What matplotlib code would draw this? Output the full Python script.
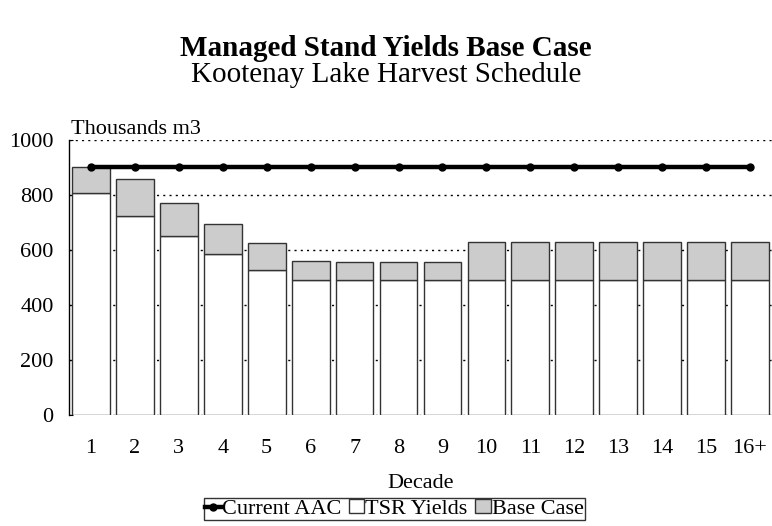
import matplotlib.pyplot as plt
import numpy as np

decades = ["1", "2", "3", "4", "5", "6", "7", "8", "9", "10", "11", "12", "13", "14", "15", "16+"]
tsr_yields = [806, 725, 651, 587, 527, 491, 491, 491, 491, 491, 491, 491, 491, 491, 491, 491]
base_case_extra = [97, 132, 121, 108, 97, 70, 67, 67, 67, 139, 139, 139, 139, 139, 139, 139]
current_aac = [900] * 16

plt.rcParams['font.family'] = ['Liberation Serif', 'DejaVu Serif']

fig = plt.figure(figsize=(7.72, 5.26), dpi=100)
ax = fig.add_axes([0.0894, 0.211, 0.9106, 0.523])

x = np.arange(1, len(decades) + 1)

# dotted gridlines behind the bars
ax.set_axisbelow(True)
ax.yaxis.grid(True, color='black', linestyle=(0, (1.5, 3)), linewidth=1.0)

tsr = ax.bar(x, tsr_yields, width=0.86, color='white', edgecolor='#333333', linewidth=1.0)
base = ax.bar(x, base_case_extra, bottom=tsr_yields, width=0.86, color='#cccccc',
              edgecolor='#333333', linewidth=1.0)
aac, = ax.plot(x, current_aac, color='black', linewidth=3.2, marker='o', markersize=5)

ax.set_xlim(0.5, 16.5)
ax.set_ylim(0, 1000)
ax.set_yticks([0, 200, 400, 600, 800, 1000])
ax.set_xticks(x)
ax.set_xticklabels(decades)
ax.tick_params(axis='x', labelsize=16, length=0, pad=17)
ax.tick_params(axis='y', labelsize=16, direction='in', length=3, pad=11)

for side in ['top', 'right', 'bottom']:
    ax.spines[side].set_visible(False)
ax.spines['left'].set_linewidth(1.0)

ax.set_xlabel('Decade', fontsize=16, labelpad=12)
ax.text(0.003, 1.003, 'Thousands m3', transform=ax.transAxes, fontsize=16, ha='left', va='bottom')

fig.text(0.5, 0.908, 'Managed Stand Yields Base Case', fontsize=21, fontweight='bold',
         ha='center', va='center')
fig.text(0.5, 0.858, 'Kootenay Lake Harvest Schedule', fontsize=21, ha='center', va='center')

leg = fig.legend([aac, tsr, base], ['Current AAC', 'TSR Yields', 'Base Case'], loc='center',
                 bbox_to_anchor=(0.511, 0.032), ncol=3, fontsize=16, frameon=True,
                 fancybox=False, edgecolor='black', handlelength=0.7, handleheight=0.55,
                 handletextpad=0.05, columnspacing=0.35, borderpad=0.05, borderaxespad=0)
leg.get_frame().set_linewidth(1.0)

plt.savefig('out.png', dpi=100)
